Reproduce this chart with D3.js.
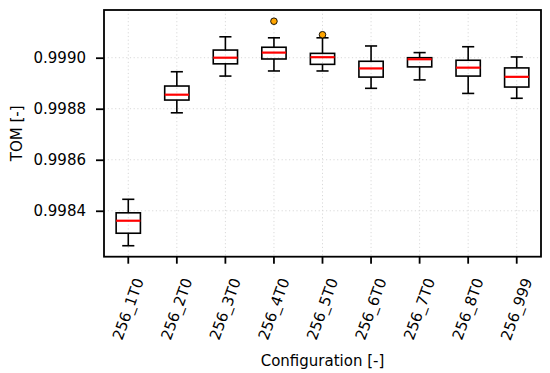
<!DOCTYPE html>
<html><head><meta charset="utf-8">
<script src="https://cdn.jsdelivr.net/npm/d3@7"></script>
<style>body{margin:0;background:#fff}svg{display:block}text{font-family:"DejaVu Sans",sans-serif;fill:#000}</style>
</head><body><svg id="c" width="550" height="373"></svg>
<script>
const categories = ["256_1T0","256_2T0","256_3T0","256_4T0","256_5T0","256_6T0","256_7T0","256_8T0","256_999"];
const whiskerLow  = [0.998263,0.998784,0.998928,0.998948,0.998948,0.998880,0.998913,0.998860,0.998841];
const q1          = [0.998312,0.998834,0.998976,0.998995,0.998974,0.998924,0.998964,0.998928,0.998885];
const medians     = [0.998361,0.998855,0.999000,0.999020,0.999002,0.998958,0.998994,0.998961,0.998925];
const q3          = [0.998392,0.998889,0.999030,0.999041,0.999017,0.998986,0.999000,0.998990,0.998960];
const whiskerHigh = [0.998445,0.998945,0.999082,0.999078,0.999078,0.999046,0.999020,0.999043,0.999003];
const outliers    = [[],[],[],[0.999143],[0.999090],[],[],[],[]];
const yTicks = [0.9984,0.9986,0.9988,0.9990];

const FS = "15px";
const svg = d3.select("#c");
const L=104, R=541, T=10, B=256.7;
const x = d3.scaleBand().domain(categories).range([L,R]).paddingInner(0).paddingOuter(0);
const y = d3.scaleLinear().domain([0.998220,0.999187]).range([B,T]);
const bw = x.bandwidth();
const cx = c => x(c)+bw/2;

// grid
const g = svg.append("g");
g.selectAll(".gx").data(categories).join("line")
  .attr("x1",cx).attr("x2",cx).attr("y1",T).attr("y2",B)
  .attr("stroke","#d9d9d9").attr("stroke-width",1).attr("stroke-dasharray","1.2,2.5");
g.selectAll(".gy").data(yTicks).join("line")
  .attr("x1",L).attr("x2",R).attr("y1",d=>y(d)).attr("y2",d=>y(d))
  .attr("stroke","#d9d9d9").attr("stroke-width",1).attr("stroke-dasharray","1.2,2.5");

// boxes
const data = categories.map((c,i)=>({c,lo:whiskerLow[i],q1:q1[i],m:medians[i],q3:q3[i],hi:whiskerHigh[i],out:outliers[i]}));
const bg = svg.append("g").selectAll("g").data(data).join("g");
const boxW = bw*0.5, capW = bw*0.25;
const SW = 1.6;
bg.append("line").attr("x1",d=>cx(d.c)).attr("x2",d=>cx(d.c)).attr("y1",d=>y(d.hi)).attr("y2",d=>y(d.q3)).attr("stroke","#000").attr("stroke-width",SW);
bg.append("line").attr("x1",d=>cx(d.c)).attr("x2",d=>cx(d.c)).attr("y1",d=>y(d.q1)).attr("y2",d=>y(d.lo)).attr("stroke","#000").attr("stroke-width",SW);
bg.append("line").attr("x1",d=>cx(d.c)-capW/2).attr("x2",d=>cx(d.c)+capW/2).attr("y1",d=>y(d.hi)).attr("y2",d=>y(d.hi)).attr("stroke","#000").attr("stroke-width",SW);
bg.append("line").attr("x1",d=>cx(d.c)-capW/2).attr("x2",d=>cx(d.c)+capW/2).attr("y1",d=>y(d.lo)).attr("y2",d=>y(d.lo)).attr("stroke","#000").attr("stroke-width",SW);
bg.append("rect").attr("x",d=>cx(d.c)-boxW/2).attr("width",boxW).attr("y",d=>y(d.q3)).attr("height",d=>y(d.q1)-y(d.q3))
  .attr("fill","none").attr("stroke","#000").attr("stroke-width",SW);
bg.append("line").attr("x1",d=>cx(d.c)-boxW/2).attr("x2",d=>cx(d.c)+boxW/2).attr("y1",d=>y(d.m)).attr("y2",d=>y(d.m)).attr("stroke","#ff0000").attr("stroke-width",2.2);
bg.each(function(d){
  d3.select(this).selectAll("circle").data(d.out).join("circle")
    .attr("cx",cx(d.c)).attr("cy",v=>y(v)).attr("r",3.3).attr("fill","#ffa500").attr("stroke","#000").attr("stroke-width",0.9);
});

// frame
svg.append("rect").attr("x",L).attr("y",T).attr("width",R-L).attr("height",B-T).attr("fill","none").attr("stroke","#000").attr("stroke-width",1.8);

// y axis
const ya = svg.append("g").attr("transform",`translate(${L},0)`)
  .call(d3.axisLeft(y).tickValues(yTicks).tickFormat(d3.format(".4f")).tickSize(8).tickPadding(10));
ya.select(".domain").remove();
ya.selectAll(".tick line").attr("stroke","#000").attr("stroke-width",1.8);
ya.selectAll(".tick text").attr("font-size",FS).attr("font-family","DejaVu Sans").attr("fill","#000");

// x axis
const xa = svg.append("g").attr("transform",`translate(0,${B})`)
  .call(d3.axisBottom(x).tickSize(7).tickFormat(""));
xa.select(".domain").remove();
xa.selectAll(".tick line").attr("stroke","#000").attr("stroke-width",1.8);
const lbl = svg.append("g").selectAll("text").data(categories).join("text")
  .attr("font-size",FS).attr("text-anchor","middle").attr("dominant-baseline","central")
  .text(d=>d);
lbl.each(function(d){
  const w = this.getComputedTextLength();
  const h = 11;
  const a = 70*Math.PI/180;
  const H = w*Math.sin(a)+h*Math.cos(a);
  const cy = 277 + H/2;
  d3.select(this).attr("transform",`translate(${cx(d)},${cy}) rotate(-70)`);
});

svg.append("text").attr("x",(L+R)/2).attr("y",366).attr("text-anchor","middle").attr("font-size",FS).text("Configuration [-]");
svg.append("text").attr("transform",`translate(22,${(T+B)/2}) rotate(-90)`).attr("text-anchor","middle").attr("font-size",FS).text("TOM [-]");
</script></body></html>
